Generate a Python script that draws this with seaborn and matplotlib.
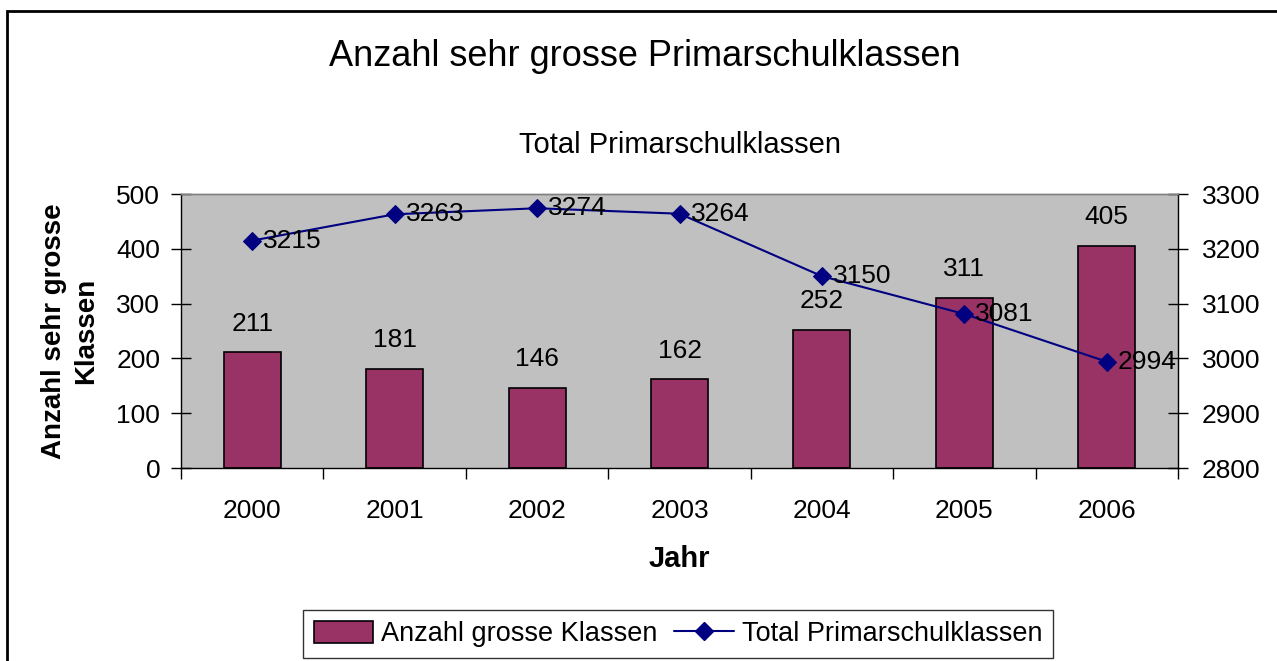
import matplotlib
matplotlib.use("Agg")
import matplotlib.pyplot as plt
import matplotlib.patches as mpatches
from matplotlib.lines import Line2D
import numpy as np
import pandas as pd
import seaborn as sns

years = ["2000", "2001", "2002", "2003", "2004", "2005", "2006"]
grosse_klassen = [211, 181, 146, 162, 252, 311, 405]
total_klassen = [3215, 3263, 3274, 3264, 3150, 3081, 2994]

title = "Anzahl sehr grosse Primarschulklassen"
subtitle = "Total Primarschulklassen"
ylabel_left = "Anzahl sehr grosse\nKlassen"
xlabel = "Jahr"
label_bars = "Anzahl grosse Klassen"
label_line = "Total Primarschulklassen"

bar_color = "#993366"
line_color = "#000080"
bg_gray = "#C0C0C0"

sns.set_theme(style="white")
plt.rcParams["font.family"] = ["Liberation Sans", "DejaVu Sans"]
plt.rcParams["text.color"] = "black"
plt.rcParams["axes.labelcolor"] = "black"
plt.rcParams["xtick.color"] = "black"
plt.rcParams["ytick.color"] = "black"

df = pd.DataFrame({"Jahr": years, "gross": grosse_klassen, "total": total_klassen})
df["pos"] = np.arange(len(years))

fig = plt.figure(figsize=(12.77, 6.61), dpi=100)
ax = fig.add_axes([181 / 1277, 1 - 468 / 661, (1178 - 181) / 1277, (468 - 194) / 661])
ax.set_facecolor(bg_gray)

sns.barplot(data=df, x="Jahr", y="gross", color=bar_color, saturation=1,
            width=0.4, edgecolor="black", linewidth=1.2, ax=ax, zorder=2)
ax.set_xlim(-0.5, len(years) - 0.5)
ax.set_ylim(0, 500)
ax.set_yticks([0, 100, 200, 300, 400, 500])
ax.tick_params(axis="y", direction="inout", length=14, width=1, labelsize=19,
               color="black", labelcolor="black", pad=8, left=True)
ax.set_xticks(df["pos"])
ax.set_xticklabels(years)
ax.set_xticks(np.arange(-0.5, len(years), 1), minor=True)
ax.tick_params(axis="x", which="major", length=0, labelsize=19, pad=22,
               labelcolor="black")
ax.tick_params(axis="x", which="minor", direction="out", length=8, width=1,
               color="black", bottom=True)
ax.set_xlabel(xlabel, fontsize=21, fontweight="bold", labelpad=16, color="black")
ax.set_ylabel(ylabel_left, fontsize=20, fontweight="bold", labelpad=12,
              linespacing=1.3, color="black")

for p, v in zip(ax.patches, grosse_klassen):
    ax.annotate(str(v), (p.get_x() + p.get_width() / 2, p.get_height()),
                xytext=(0, 12), textcoords="offset points",
                ha="center", va="bottom", fontsize=19, color="black", zorder=5)

ax2 = ax.twinx()
sns.lineplot(data=df, x="pos", y="total", color=line_color, marker="D",
             markersize=9, markeredgecolor=line_color, linewidth=1.5, ax=ax2,
             zorder=3)
ax2.set_ylim(2800, 3300)
ax2.set_yticks([2800, 2900, 3000, 3100, 3200, 3300])
ax2.tick_params(axis="y", direction="inout", length=14, width=1, labelsize=19,
                color="black", labelcolor="black", pad=10, right=True)
ax2.set_ylabel("")
ax2.set_xlabel("")
ax2.set_xlim(-0.5, len(years) - 0.5)

for x, v in zip(df["pos"], total_klassen):
    ax2.annotate(str(v), (x, v), xytext=(8, 0), textcoords="offset points",
                 ha="left", va="center", fontsize=19, color="black", zorder=6)

for a in (ax, ax2):
    for s in a.spines.values():
        s.set_visible(True)
        s.set_color("black")
        s.set_linewidth(1)
ax.spines["top"].set_color("#808080")
ax2.spines["top"].set_color("#808080")
ax.spines["right"].set_visible(False)
ax2.spines["left"].set_visible(False)
ax2.spines["bottom"].set_visible(False)

fig.text(645 / 1277, 1 - 56 / 661, title, ha="center", va="center", fontsize=26,
         color="black")
fig.text(680 / 1277, 1 - 145 / 661, subtitle, ha="center", va="center",
         fontsize=21, color="black")

handles = [mpatches.Patch(facecolor=bar_color, edgecolor="black", linewidth=1.2),
           Line2D([0], [0], color=line_color, marker="D", markersize=9,
                  linewidth=1.5)]
leg = fig.legend(handles, [label_bars, label_line], ncol=2,
                 loc="center", bbox_to_anchor=(678 / 1277, 1 - 634 / 661),
                 fontsize=19.5, frameon=True, fancybox=False, edgecolor="black",
                 handlelength=2.2, handletextpad=0.3, columnspacing=0.6,
                 borderpad=0.4, handleheight=0.9)
leg.get_frame().set_linewidth(1)
for t in leg.get_texts():
    t.set_color("black")

border = mpatches.Rectangle((7 / 1277, -0.05), 1.1, 1 - 11 / 661 + 0.05,
                            transform=fig.transFigure, fill=False,
                            edgecolor="black", linewidth=2, clip_on=False)
fig.patches.append(border)

fig.savefig("out.png", dpi=100)
